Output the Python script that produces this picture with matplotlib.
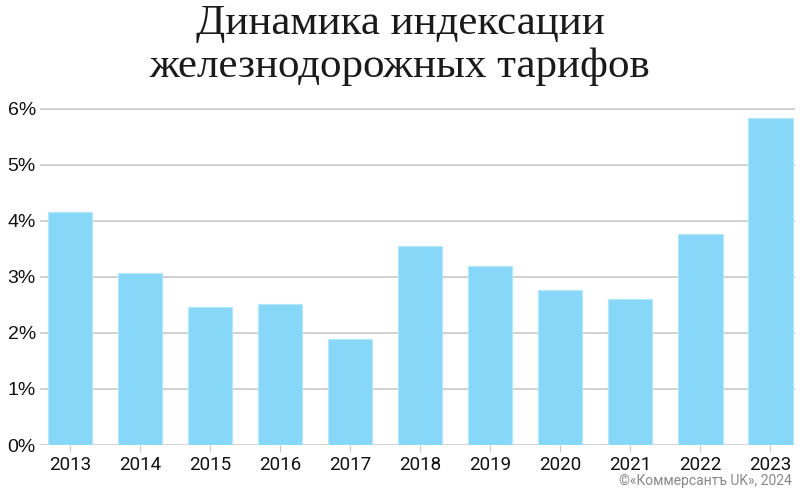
import numpy as np
import matplotlib.pyplot as plt

# Data
years = ['2013', '2014', '2015', '2016', '2017', '2018',
         '2019', '2020', '2021', '2022', '2023']
values = [4.16, 3.07, 2.47, 2.52, 1.89, 3.56, 3.20, 2.77, 2.60, 3.76, 5.84]
yticks = [0, 1, 2, 3, 4, 5, 6]
title = 'Динамика индексации\nжелезнодорожных тарифов'
credit = '©«Коммерсантъ UK», 2024'


def main():
    fig = plt.figure(figsize=(8, 4.92), dpi=100)
    ax = fig.add_axes([40 / 800, 1 - 445 / 492, 755 / 800, (445 - 106) / 492])

    x = np.arange(len(years))
    ax.bar(x, values, width=0.63, color='#87d8f8', edgecolor='#b5e6fa',
           linewidth=0.8, zorder=2)

    ax.set_xlim(-0.43, 10.35)
    ax.set_ylim(0, 6.05)
    ax.set_yticks(yticks)
    ax.set_yticklabels([f'{v}%' for v in yticks], fontsize=14,
                       family='Liberation Sans', color='#111111')
    ax.set_xticks(x)
    ax.set_xticklabels(years, fontsize=13.5, family=['Liberation Sans Narrow', 'Roboto'],
                       color='#111111')
    ax.grid(axis='y', color='#c8c8c8', linewidth=1.2, zorder=0)
    for s in ax.spines.values():
        s.set_visible(False)
    ax.tick_params(axis='y', length=0, pad=3)
    ax.tick_params(axis='x', length=5, color='#c8c8c8', pad=3)

    fig.text(0.5, 0.99, title, ha='center', va='top', fontsize=31,
             family='Liberation Serif', color='#1a1a1a', linespacing=1.15)
    fig.text(792 / 800, 1 - 481 / 492, credit, ha='right', va='center',
             fontsize=10, family=['Liberation Sans Narrow', 'Roboto'], color='#888888')

    fig.savefig('out.png', dpi=100)


if __name__ == "__main__":
    main()
